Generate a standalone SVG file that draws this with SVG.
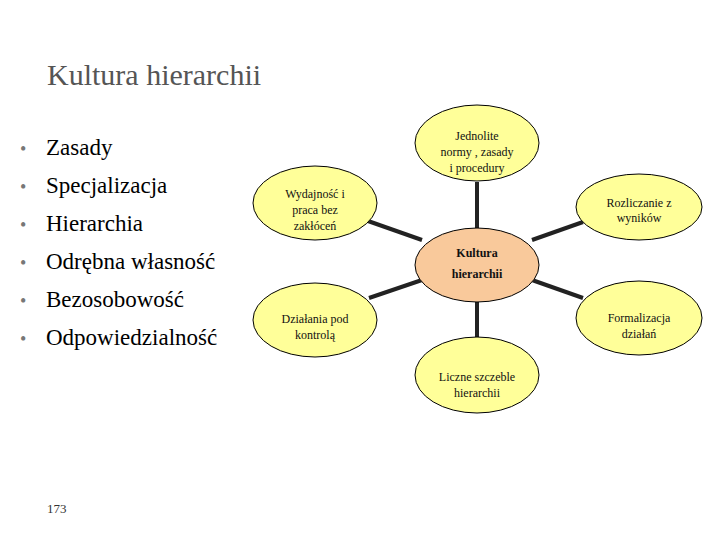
<svg xmlns="http://www.w3.org/2000/svg" width="720" height="540" viewBox="0 0 720 540">
<style>
text{font-family:"Liberation Serif","Times New Roman","Tinos","DejaVu Serif",serif}
.e{fill:#ffff99;stroke:#000;stroke-width:1}
.t{font-size:12px;fill:#111;text-anchor:middle}
.b{font-size:23px;fill:#000}
.d{font-size:18px;fill:#777}
line{stroke:#222;stroke-width:4}
</style>
<rect width="720" height="540" fill="#fff"/>
<text x="47" y="85" font-size="30" fill="#555">Kultura hierarchii</text>
<g id="bullets">
<text class="d" x="20" y="155">•</text><text class="b" x="46" y="155">Zasady</text>
<text class="d" x="20" y="193">•</text><text class="b" x="46" y="193">Specjalizacja</text>
<text class="d" x="20" y="231">•</text><text class="b" x="46" y="231">Hierarchia</text>
<text class="d" x="20" y="269">•</text><text class="b" x="46" y="269">Odrębna własność</text>
<text class="d" x="20" y="307">•</text><text class="b" x="46" y="307">Bezosobowość</text>
<text class="d" x="20" y="345">•</text><text class="b" x="46" y="345">Odpowiedzialność</text>
</g>
<g id="connectors">
<line x1="477" y1="182" x2="477" y2="228"/>
<line x1="368" y1="221" x2="422" y2="240"/>
<line x1="583" y1="222" x2="532" y2="240"/>
<line x1="369" y1="298" x2="422" y2="280"/>
<line x1="532" y1="280" x2="583" y2="298"/>
<line x1="477" y1="302" x2="477" y2="337"/>
</g>
<g id="n-top"><ellipse class="e" cx="477" cy="143" rx="62" ry="38"/><text class="t" x="477" y="140">Jednolite</text><text class="t" x="477" y="156">normy , zasady</text><text class="t" x="477" y="172">i procedury</text></g>
<g id="n-lt"><ellipse class="e" cx="315" cy="203" rx="62" ry="37"/><text class="t" x="315" y="198">Wydajność i</text><text class="t" x="315" y="214">praca bez</text><text class="t" x="315" y="230">zakłóceń</text></g>
<g id="n-rt"><ellipse class="e" cx="639" cy="207" rx="63" ry="33"/><text class="t" x="639" y="207">Rozliczanie z</text><text class="t" x="639" y="222">wyników</text></g>
<g id="n-c"><ellipse cx="477" cy="265" rx="62" ry="37" fill="#f9c99b" stroke="#000"/><text class="t" x="477" y="257" font-size="16" font-weight="bold">Kultura</text><text class="t" x="477" y="278" font-size="16" font-weight="bold">hierarchii</text></g>
<g id="n-lb"><ellipse class="e" cx="315" cy="320" rx="62" ry="37"/><text class="t" x="315" y="323">Działania pod</text><text class="t" x="315" y="339">kontrolą</text></g>
<g id="n-rb"><ellipse class="e" cx="639" cy="318" rx="63" ry="37"/><text class="t" x="639" y="322">Formalizacja</text><text class="t" x="639" y="338">działań</text></g>
<g id="n-b"><ellipse class="e" cx="477" cy="375" rx="62" ry="38"/><text class="t" x="477" y="381">Liczne szczeble</text><text class="t" x="477" y="397">hierarchii</text></g>
<text x="47" y="513" font-size="13" fill="#333">173</text>
</svg>
